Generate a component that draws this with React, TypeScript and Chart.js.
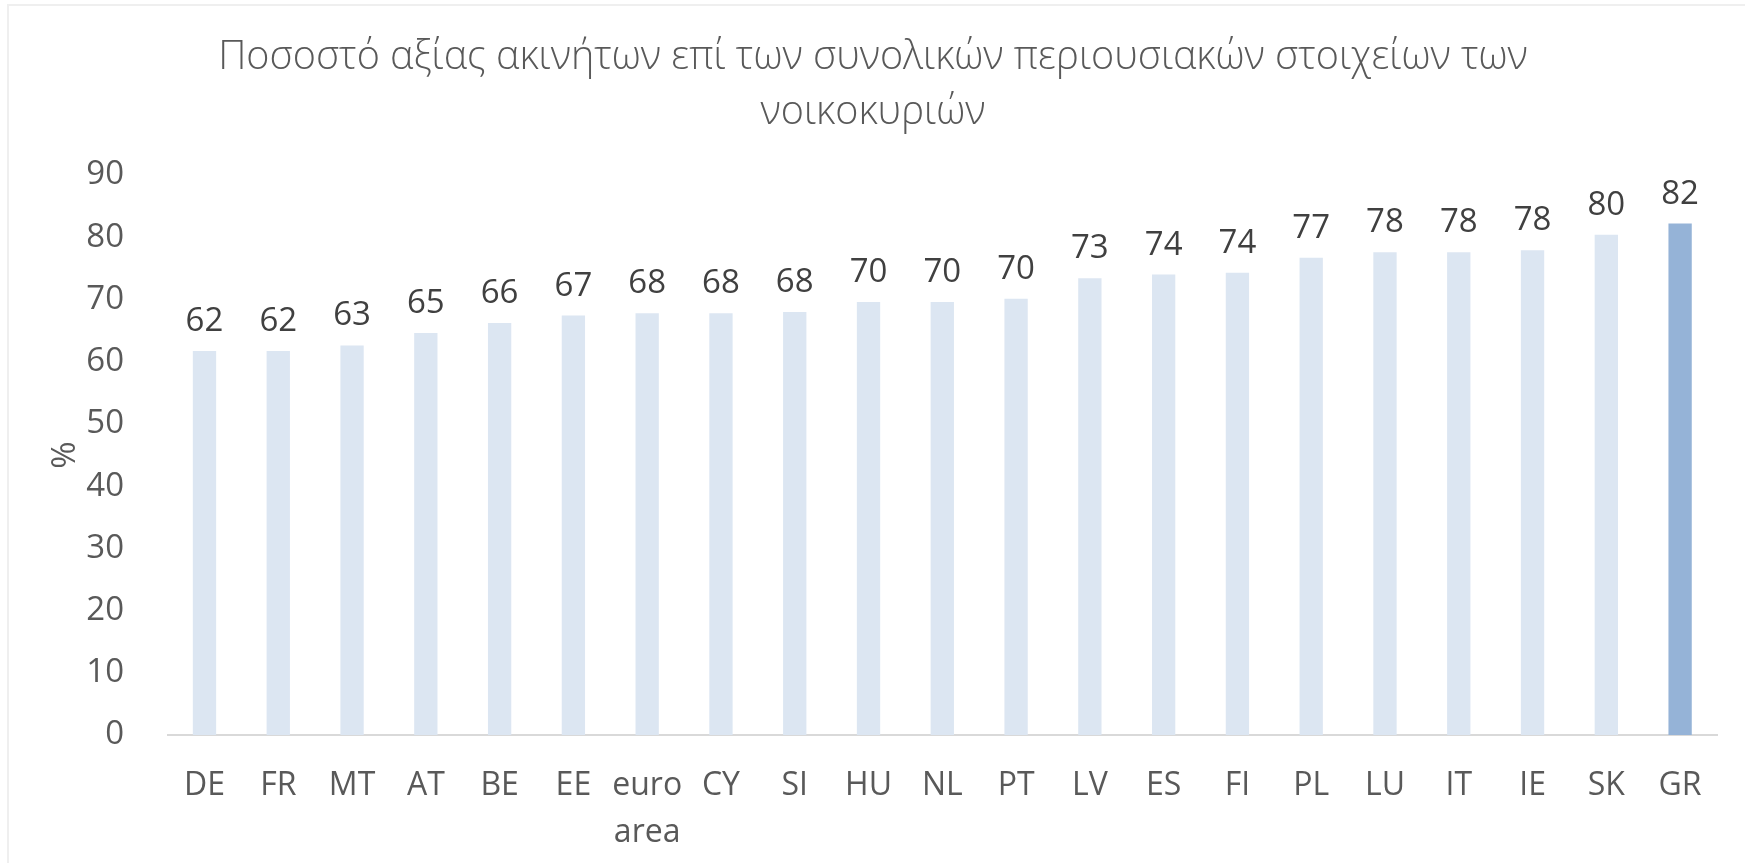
import React, { useEffect, useRef } from 'react';
import { Chart, registerables } from 'chart.js';

Chart.register(...registerables);

const titleLines: string[] = [
  'Ποσοστό αξίας ακινήτων επί των συνολικών περιουσιακών στοιχείων των',
  'νοικοκυριών',
];

const categories: (string | string[])[] = [
  'DE', 'FR', 'MT', 'AT', 'BE', 'EE', ['euro', 'area'], 'CY', 'SI', 'HU', 'NL',
  'PT', 'LV', 'ES', 'FI', 'PL', 'LU', 'IT', 'IE', 'SK', 'GR',
];

const shareValues: number[] = [
  61.7, 61.7, 62.6, 64.6, 66.2, 67.4, 67.8, 67.8, 68.0, 69.6, 69.6,
  70.1, 73.4, 74.0, 74.3, 76.7, 77.6, 77.6, 77.9, 80.4, 82.2,
];

const highlightCategory = 'GR';
const yTicks: number[] = [0, 10, 20, 30, 40, 50, 60, 70, 80, 90];
const yAxisTitle = '%';

const FONT = '"Open Sans", "Noto Sans", sans-serif';

const valueLabels = {
  id: 'valueLabels',
  afterDatasetsDraw(chart: any) {
    const ctx = chart.ctx;
    const meta = chart.getDatasetMeta(0);
    const data = chart.data.datasets[0].data as number[];
    ctx.save();
    ctx.font = `33px ${FONT}`;
    ctx.fillStyle = '#404040';
    ctx.textAlign = 'center';
    ctx.textBaseline = 'alphabetic';
    meta.data.forEach((el: any, i: number) => {
      ctx.fillText(String(Math.round(data[i])), el.x, el.y - 20);
    });
    ctx.restore();
  },
};

export default function App() {
  const canvasRef = useRef<HTMLCanvasElement | null>(null);

  useEffect(() => {
    if (!canvasRef.current) return;
    const colors = categories.map((c) =>
      (Array.isArray(c) ? c.join(' ') : c) === highlightCategory ? '#95B3D7' : '#DCE6F2'
    );
    const chart = new Chart(canvasRef.current, {
      type: 'bar',
      data: {
        labels: categories as any,
        datasets: [
          {
            data: shareValues,
            backgroundColor: colors,
            borderWidth: 0,
            barPercentage: 0.316,
            categoryPercentage: 1,
          },
        ],
      },
      plugins: [valueLabels],
      options: {
        animation: false,
        responsive: true,
        maintainAspectRatio: false,
        layout: { padding: { left: 29, right: 28, top: 0, bottom: 0 } },
        plugins: {
          legend: { display: false },
          tooltip: { enabled: false },
          title: {
            display: true,
            text: titleLines,
            color: '#595959',
            font: { family: FONT, size: 39.5, weight: '300' as any, lineHeight: 55 / 39.5 },
            padding: { top: 30, bottom: 35 },
          },
        },
        scales: {
          x: {
            grid: { display: false },
            border: { display: true, color: '#D9D9D9', width: 2 },
            ticks: {
              color: '#595959',
              font: { family: FONT, size: 32, lineHeight: 1.45 },
              padding: 20,
              maxRotation: 0,
              autoSkip: false,
            },
            afterFit: (scale: any) => {
              scale.height = 128;
            },
          },
          y: {
            min: 0,
            max: 90,
            afterBuildTicks: (scale: any) => {
              scale.ticks = yTicks.map((v) => ({ value: v }));
            },
            grid: { display: false },
            border: { display: false },
            ticks: {
              color: '#595959',
              font: { family: FONT, size: 33 },
              padding: 35.6,
            },
            title: {
              display: true,
              text: yAxisTitle,
              color: '#595959',
              font: { family: FONT, size: 33, lineHeight: 1.2 },
              padding: { top: 17, bottom: 0 },
            },
            afterFit: (scale: any) => {
              scale.width = 138.6;
            },
          },
        },
      },
    });
    return () => chart.destroy();
  }, []);

  return (
    <div style={{ position: 'absolute', left: 0, top: 0, width: 1745, height: 863, background: '#fff', overflow: 'hidden' }}>
      <div
        style={{
          position: 'absolute',
          left: 7,
          top: 4,
          width: 1760,
          height: 880,
          borderLeft: '2px solid #EFEFEF',
          borderTop: '2px solid #EFEFEF',
        }}
      />
      <div style={{ position: 'absolute', left: 0, top: 0, width: 1745, height: 863 }}>
        <canvas ref={canvasRef} />
      </div>
    </div>
  );
}
